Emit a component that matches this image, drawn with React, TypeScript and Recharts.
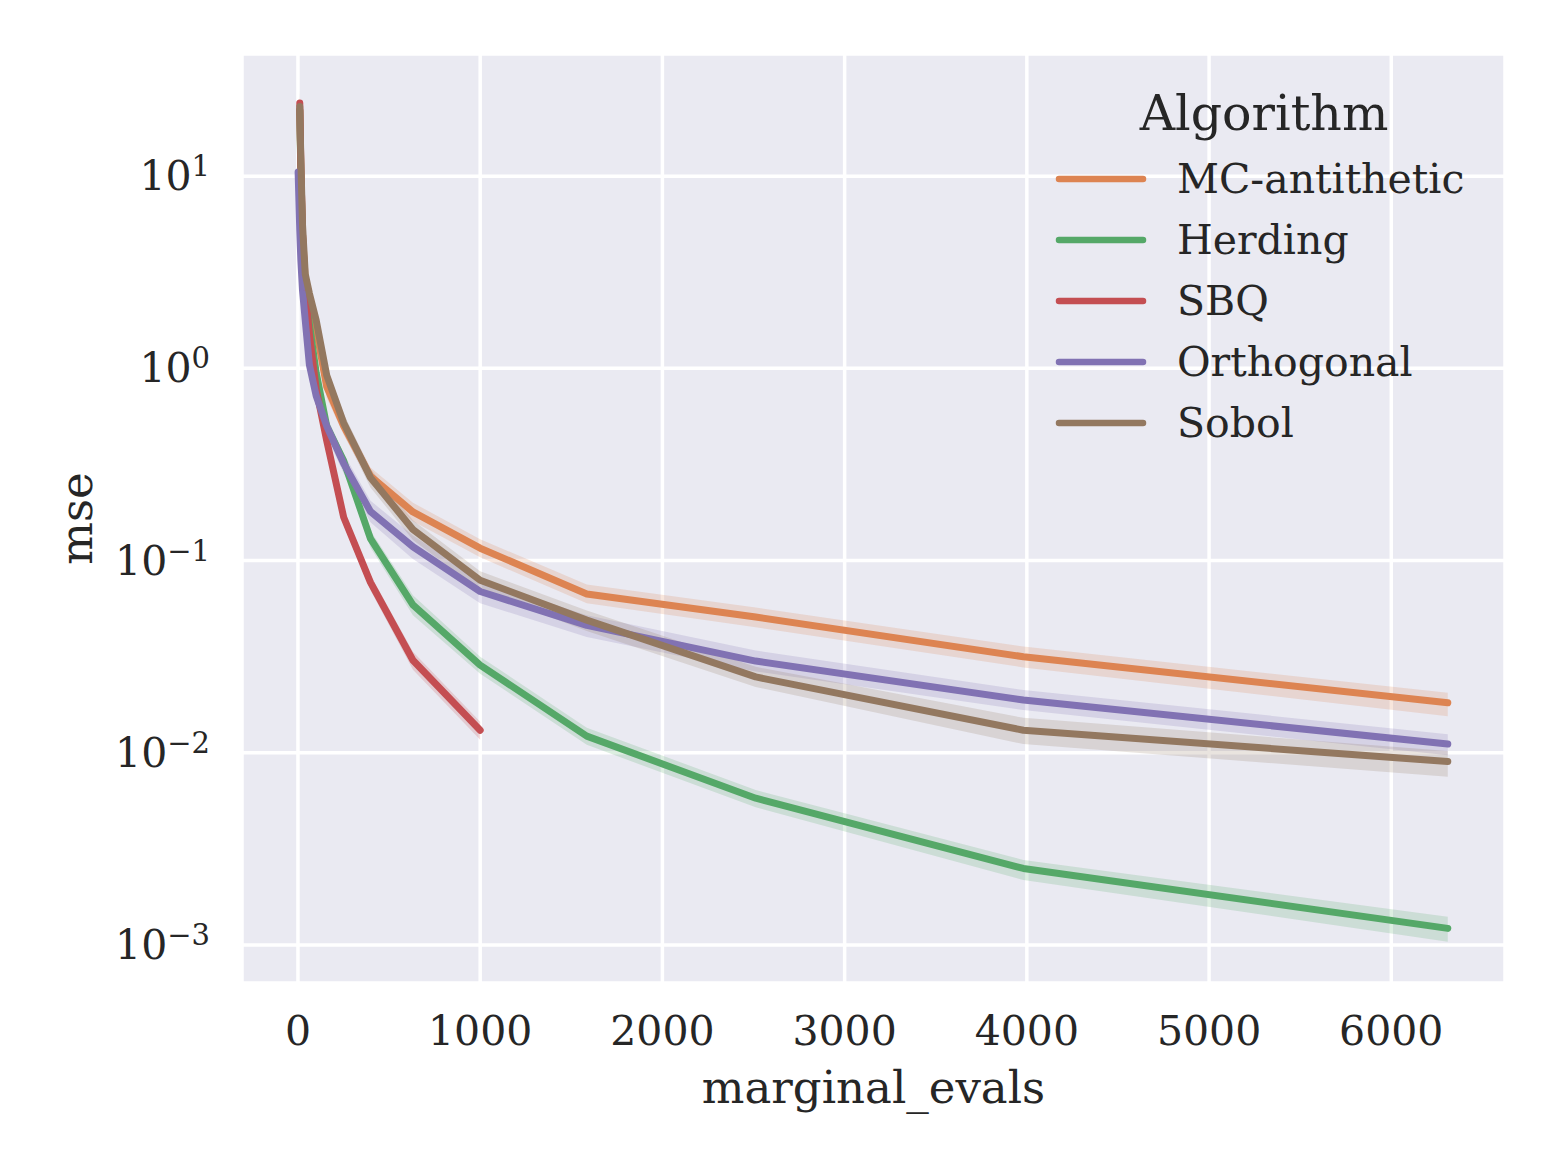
import { Area, CartesianGrid, ComposedChart, Label, Line, XAxis, YAxis } from 'recharts'

const FONT = '"DejaVu Serif", serif'
const TEXT = '#262626'

// marginal evaluations at which each algorithm was run
const evals = [10, 16, 25, 40, 63, 100, 158, 251, 398, 631, 1000, 1585, 2512, 3981, 6310]
const orthoEvals = [1, 10, 16, 25, 40, 63, 100, 158, 251, 398, 631, 1000, 1585, 2512, 3981, 6310]
const sbqEvals = [10, 16, 25, 40, 63, 100, 158, 251, 398, 631, 1000]

const xTicks = [0, 1000, 2000, 3000, 4000, 5000, 6000]
const yTicks = [0.001, 0.01, 0.1, 1, 10]

const mcMse = [22, 11, 5.0, 2.9, 2.2, 1.6, 0.8, 0.5, 0.275, 0.179, 0.116, 0.067, 0.0508, 0.0316, 0.0182]
const mcLo = [18, 9.2, 4.3, 2.5, 1.9, 1.4, 0.7, 0.45, 0.25, 0.16, 0.104, 0.06, 0.045, 0.0278, 0.0155]
const mcHi = [26, 13, 5.8, 3.3, 2.5, 1.8, 0.9, 0.56, 0.305, 0.2, 0.129, 0.075, 0.057, 0.0357, 0.0205]

const herdingMse = [22, 10, 4.8, 2.6, 1.7, 0.95, 0.5, 0.33, 0.13, 0.0588, 0.0286, 0.0122, 0.0058, 0.0025, 0.00122]
const herdingLo = [19, 8.8, 4.2, 2.3, 1.5, 0.85, 0.45, 0.3, 0.117, 0.052, 0.0258, 0.011, 0.0052, 0.00218, 0.00104]
const herdingHi = [25, 11.4, 5.4, 2.9, 1.9, 1.05, 0.56, 0.36, 0.143, 0.066, 0.0316, 0.0135, 0.0064, 0.00277, 0.0014]

const sbqMse = [24, 11, 5.0, 2.6, 1.5, 0.78, 0.42, 0.168, 0.077, 0.0303, 0.0131]
const sbqLo = [21, 9.8, 4.5, 2.35, 1.35, 0.7, 0.38, 0.153, 0.07, 0.027, 0.0117]
const sbqHi = [27, 12.3, 5.5, 2.85, 1.65, 0.86, 0.46, 0.183, 0.084, 0.0335, 0.0145]

const orthoMse = [10.5, 5.2, 3.65, 2.55, 1.78, 1.04, 0.72, 0.5, 0.32, 0.18, 0.118, 0.069, 0.046, 0.03, 0.0188, 0.0111]
const orthoLo = [9.5, 4.6, 3.2, 2.25, 1.57, 0.92, 0.64, 0.44, 0.285, 0.158, 0.102, 0.06, 0.04, 0.0265, 0.0167, 0.0097]
const orthoHi = [11.6, 5.8, 4.1, 2.85, 2.0, 1.16, 0.8, 0.56, 0.36, 0.205, 0.135, 0.079, 0.052, 0.034, 0.0212, 0.0125]

const sobolMse = [23, 12, 5.6, 3.1, 2.45, 1.78, 0.92, 0.52, 0.27, 0.145, 0.079, 0.049, 0.0248, 0.0131, 0.009]
const sobolLo = [19, 10, 4.8, 2.7, 2.2, 1.6, 0.82, 0.46, 0.24, 0.128, 0.07, 0.043, 0.022, 0.0111, 0.0075]
const sobolHi = [28, 14, 6.4, 3.5, 2.7, 2.0, 1.02, 0.58, 0.3, 0.162, 0.088, 0.055, 0.028, 0.0152, 0.0102]

interface Series {
  key: string
  name: string
  color: string
  x: number[]
  mean: number[]
  lo: number[]
  hi: number[]
}

const SERIES: Series[] = [
  { key: 'mc', name: 'MC-antithetic', color: '#DD8452', x: evals, mean: mcMse, lo: mcLo, hi: mcHi },
  { key: 'herding', name: 'Herding', color: '#55A868', x: evals, mean: herdingMse, lo: herdingLo, hi: herdingHi },
  { key: 'sbq', name: 'SBQ', color: '#C44E52', x: sbqEvals, mean: sbqMse, lo: sbqLo, hi: sbqHi },
  { key: 'ortho', name: 'Orthogonal', color: '#8172B3', x: orthoEvals, mean: orthoMse, lo: orthoLo, hi: orthoHi },
  { key: 'sobol', name: 'Sobol', color: '#937860', x: evals, mean: sobolMse, lo: sobolLo, hi: sobolHi }
]

const allX = Array.from(new Set(SERIES.flatMap(s => s.x))).sort((a, b) => a - b)
const table = allX.map(x => {
  const row: Record<string, any> = { x }
  SERIES.forEach(s => {
    const i = s.x.indexOf(x)
    if (i >= 0) {
      row[s.key] = s.mean[i]
      row[s.key + 'Band'] = [s.lo[i], s.hi[i]]
    }
  })
  return row
})

const XTick = ({ x, y, payload }: any) => (
  <text x={x} y={y + 60} textAnchor="middle" fontFamily={FONT} fontSize={41} fill={TEXT}>
    {payload.value}
  </text>
)

const YTick = ({ x, y, payload }: any) => {
  const e = Math.round(Math.log10(payload.value))
  const sup = e < 0 ? '\u2212' + Math.abs(e) : String(e)
  return (
    <text x={x - 30} y={y + 14} textAnchor="end" fontFamily={FONT} fontSize={41} fill={TEXT}>
      <tspan>10</tspan>
      <tspan dy={-14} fontSize={29}>{sup}</tspan>
    </text>
  )
}

const LegendOverlay = () => (
  <svg width={1560} height={1170} style={{ position: 'absolute', left: 0, top: 0, pointerEvents: 'none' }}>
    <text x={1264} y={130} textAnchor="middle" fontFamily={FONT} fontSize={49} fill={TEXT}>
      Algorithm
    </text>
    {SERIES.map((s, i) => (
      <g key={s.key}>
        <line x1={1059} x2={1143} y1={179 + i * 61} y2={179 + i * 61} stroke={s.color} strokeWidth={6.5} strokeLinecap="round" />
        <text x={1177} y={193 + i * 61} fontFamily={FONT} fontSize={41} fill={TEXT}>
          {s.name}
        </text>
      </g>
    ))}
  </svg>
)

export default function App() {
  return (
    <div style={{ position: 'absolute', left: 0, top: 0, width: 1560, height: 1170, background: '#fff' }}>
      <ComposedChart width={1560} height={1170} data={table} margin={{ top: 54, right: 55, bottom: 0, left: 0 }}>
        <CartesianGrid fill="#EAEAF2" stroke="#ffffff" strokeWidth={3.5} />
        <XAxis
          dataKey="x"
          type="number"
          domain={[-307, 6624]}
          ticks={xTicks}
          allowDataOverflow
          height={187}
          axisLine={false}
          tickLine={false}
          tickSize={0}
          tick={<XTick />}
        >
          <Label
            content={({ viewBox }: any) => (
              <text x={viewBox.x + viewBox.width / 2} y={viewBox.y + 120} textAnchor="middle" fontFamily={FONT} fontSize={45} fill={TEXT}>
                marginal_evals
              </text>
            )}
          />
        </XAxis>
        <YAxis
          scale="log"
          type="number"
          domain={[0.000634, 43.2]}
          ticks={yTicks}
          allowDataOverflow
          width={242}
          axisLine={false}
          tickLine={false}
          tickSize={0}
          tick={<YTick />}
        >
          <Label
            content={({ viewBox }: any) => (
              <text
                x={92}
                y={viewBox.y + viewBox.height / 2}
                transform={`rotate(-90 92 ${viewBox.y + viewBox.height / 2})`}
                textAnchor="middle"
                fontFamily={FONT}
                fontSize={45}
                fill={TEXT}
              >
                mse
              </text>
            )}
          />
        </YAxis>
        {SERIES.map(s => (
          <Area
            key={s.key + 'Band'}
            dataKey={s.key + 'Band'}
            type="linear"
            stroke="none"
            fill={s.color}
            fillOpacity={0.2}
            isAnimationActive={false}
            dot={false}
            activeDot={false}
          />
        ))}
        {SERIES.map(s => (
          <Line
            key={s.key}
            dataKey={s.key}
            name={s.name}
            type="linear"
            stroke={s.color}
            strokeWidth={7}
            strokeLinecap="round"
            strokeLinejoin="round"
            dot={false}
            activeDot={false}
            isAnimationActive={false}
          />
        ))}
      </ComposedChart>
      <LegendOverlay />
    </div>
  )
}
